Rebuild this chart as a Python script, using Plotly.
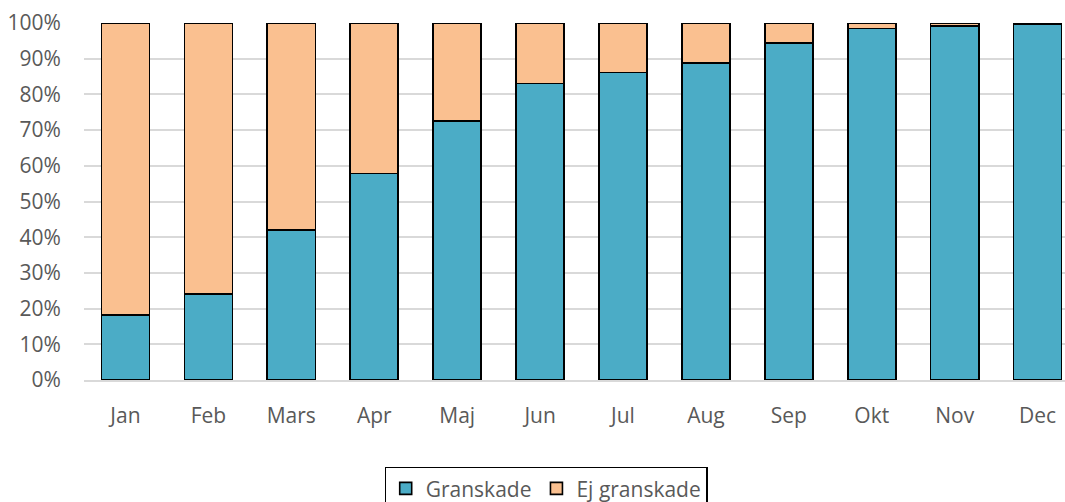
import plotly.graph_objects as go

months = ["Jan", "Feb", "Mars", "Apr", "Maj", "Jun", "Jul", "Aug", "Sep", "Okt", "Nov", "Dec"]
granskade = [18.2, 24.1, 42.1, 57.9, 72.6, 83.0, 86.1, 88.8, 94.4, 98.5, 99.2, 99.8]
ej_granskade = [round(100 - v, 1) for v in granskade]

FONT = "Open Sans"
fig = go.Figure()
fig.add_trace(go.Bar(x=months, y=granskade, name="Granskade",
                     marker=dict(color="#4BACC6", line=dict(color="black", width=1.6)),
                     width=0.58))
fig.add_trace(go.Bar(x=months, y=ej_granskade, name="Ej granskade",
                     marker=dict(color="#FAC090", line=dict(color="black", width=1.6)),
                     width=0.58))

fig.update_layout(
    barmode="stack",
    width=1065, height=502,
    margin=dict(l=84, r=0, t=23, b=122, autoexpand=False),
    plot_bgcolor="white", paper_bgcolor="white",
    font=dict(family=FONT, size=21, color="#595959"),
    legend=dict(orientation="h", xref="container", yref="container",
                x=546/1065, xanchor="center", y=1-467/502, yanchor="top",
                bordercolor="black", borderwidth=1.2,
                font=dict(size=21, color="#595959"),
                itemwidth=30, traceorder="normal"),
    xaxis=dict(range=[-0.5, 11.33], showgrid=False, showline=True,
               linecolor="#d9d9d9", linewidth=1.5, automargin=False,
               ticks="outside", ticklen=16, tickcolor="rgba(0,0,0,0)"),
    yaxis=dict(range=[0, 100], dtick=10, ticksuffix="%", showgrid=True,
               gridcolor="#d9d9d9", gridwidth=1.5, zeroline=False, automargin=False,
               ticks="outside", ticklen=18, tickcolor="rgba(0,0,0,0)"),
)
fig.write_html("out.html", config={"displayModeBar": False},
               post_script="document.body.style.margin='0';")
